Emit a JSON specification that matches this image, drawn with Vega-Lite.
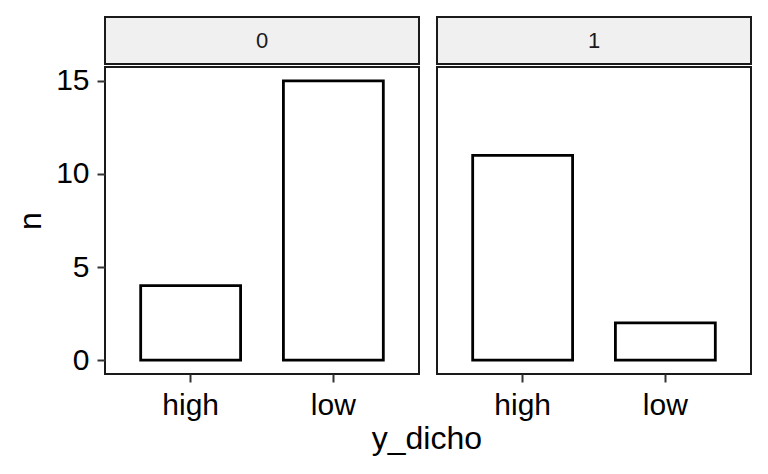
{
  "$schema": "https://vega.github.io/schema/vega-lite/v6.json",
  "padding": {"left": 13, "top": 16, "right": 14, "bottom": 5},
  "background": "white",
  "datasets": {
    "counts": [
      {"group": "0", "y_dicho": "high", "n": 4},
      {"group": "0", "y_dicho": "low", "n": 15},
      {"group": "1", "y_dicho": "high", "n": 11},
      {"group": "1", "y_dicho": "low", "n": 2}
    ]
  },
  "title": {"text": "y_dicho", "orient": "bottom", "anchor": "middle", "fontSize": 32, "fontWeight": "normal", "font": "Liberation Sans", "color": "black", "offset": 3, "dx": 44},
  "columns": 2,
  "spacing": {"row": 3, "column": 18},
  "bounds": "flush",
  "config": {
    "view": {"stroke": "#1a1a1a", "strokeWidth": 2},
    "axis": {
      "domain": false, "grid": false,
      "tickColor": "#333333", "tickWidth": 2, "tickSize": 8,
      "labelFont": "Liberation Sans", "labelFontSize": 30, "labelColor": "black", "labelPadding": 8,
      "titleFont": "Liberation Sans", "titleFontSize": 32, "titleFontWeight": "normal", "titleColor": "black"
    }
  },
  "concat": [
    {
      "data": {"name": "counts"},
      "transform": [{"filter": "datum.group == '0'"}, {"aggregate": [{"op": "count", "as": "k"}], "groupby": ["group"]}],
      "width": 314, "height": 47,
      "view": {"fill": "#f0f0f0", "stroke": "#1a1a1a", "strokeWidth": 2},
      "mark": {"type": "text", "fontSize": 22, "font": "Liberation Sans", "color": "#1a1a1a", "baseline": "middle", "align": "center"},
      "encoding": {"text": {"field": "group"}}
    },
    {
      "data": {"name": "counts"},
      "transform": [{"filter": "datum.group == '1'"}, {"aggregate": [{"op": "count", "as": "k"}], "groupby": ["group"]}],
      "width": 314, "height": 47,
      "view": {"fill": "#f0f0f0", "stroke": "#1a1a1a", "strokeWidth": 2},
      "mark": {"type": "text", "fontSize": 22, "font": "Liberation Sans", "color": "#1a1a1a", "baseline": "middle", "align": "center"},
      "encoding": {"text": {"field": "group"}}
    },
    {
      "data": {"name": "counts"},
      "transform": [{"filter": "datum.group == '0'"}],
      "width": 314, "height": 307,
      "mark": {"type": "bar", "fill": "white", "stroke": "black", "strokeWidth": 2.8},
      "encoding": {
        "x": {"field": "y_dicho", "type": "nominal", "scale": {"paddingInner": 0.3, "paddingOuter": 0.25}, "axis": {"title": null, "labelAngle": 0}},
        "y": {"field": "n", "type": "quantitative", "scale": {"domain": [-0.75, 15.75], "nice": false, "zero": false}, "axis": {"title": "n", "values": [0, 5, 10, 15], "titlePadding": 8}},
        "y2": {"datum": 0}
      }
    },
    {
      "data": {"name": "counts"},
      "transform": [{"filter": "datum.group == '1'"}],
      "width": 314, "height": 307,
      "mark": {"type": "bar", "fill": "white", "stroke": "black", "strokeWidth": 2.8},
      "encoding": {
        "x": {"field": "y_dicho", "type": "nominal", "scale": {"paddingInner": 0.3, "paddingOuter": 0.25}, "axis": {"title": null, "labelAngle": 0}},
        "y": {"field": "n", "type": "quantitative", "scale": {"domain": [-0.75, 15.75], "nice": false, "zero": false}, "axis": null},
        "y2": {"datum": 0}
      }
    }
  ]
}
